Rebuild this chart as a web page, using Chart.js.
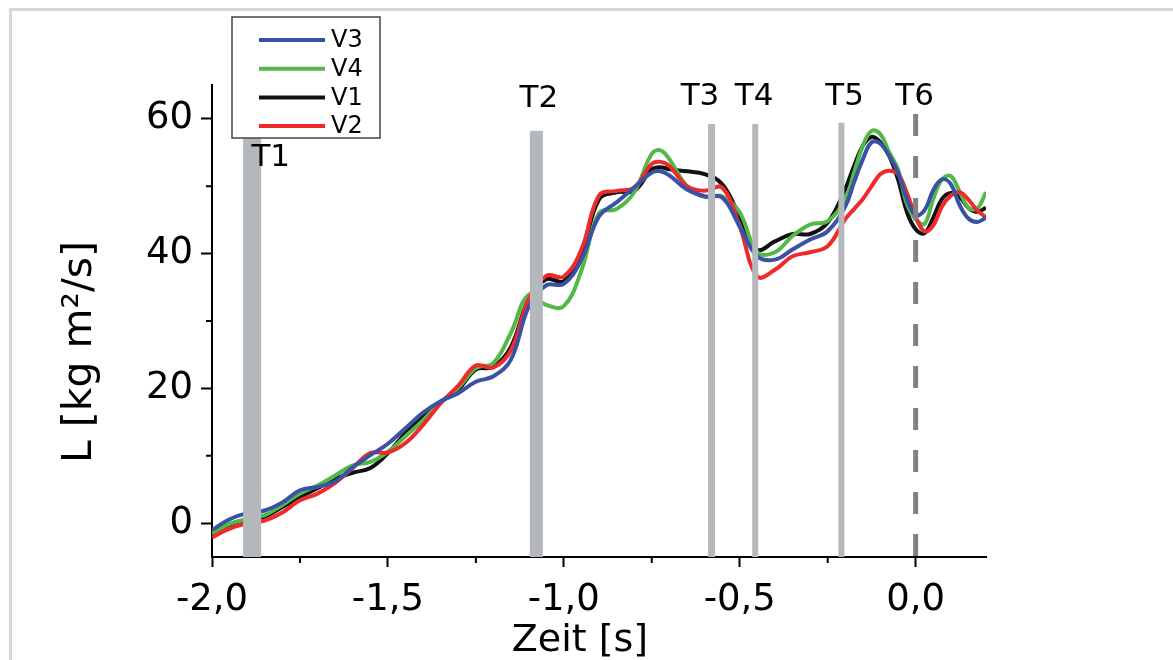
<!DOCTYPE html>
<html>
<head>
<meta charset="utf-8">
<script src="https://cdn.jsdelivr.net/npm/chart.js@4.4.1/dist/chart.umd.min.js"></script>
<style>
    html, body { margin: 0; padding: 0; background: #fff; }
    body { width: 1173px; height: 660px; overflow: hidden; position: relative; }
    #frame {
        position: absolute; left: 9px; top: 8px; width: 1200px; height: 700px;
        border-top: 3px solid #d6d6d6; border-left: 3px solid #d6d6d6;
    }
    #myChart { position: absolute; left: 0; top: 0; }
</style>
</head>
<body>
<div id="frame"></div>
<canvas id="myChart" width="1173" height="660"></canvas>
<script>
// time axis, seconds
const times = [-2.0, -1.95, -1.9, -1.85, -1.8, -1.75, -1.7, -1.65, -1.6, -1.55,
    -1.5, -1.45, -1.4, -1.35, -1.3, -1.25, -1.2, -1.15, -1.1, -1.05,
    -1.0, -0.95, -0.9, -0.85, -0.8, -0.75, -0.725, -0.7, -0.65, -0.6,
    -0.55, -0.5, -0.45, -0.4, -0.35, -0.3, -0.25, -0.2, -0.175, -0.15,
    -0.125, -0.1, -0.075, -0.05, -0.025, 0.0, 0.025, 0.05, 0.075, 0.1,
    0.125, 0.15, 0.175, 0.2];

// L [kg m^2/s] per subject
const valuesV1 = [-1.4, -0.2, 0.6, 1.0, 2.4, 3.9, 5.2, 6.6, 7.5, 8.2,
    10.4, 13.4, 15.8, 18.0, 19.8, 22.8, 23.2, 26.2, 33.2, 36.2,
    35.9, 39.9, 48.0, 49.1, 49.3, 52.5, 52.8, 52.5, 52.2, 51.8,
    50.3, 45.5, 40.6, 41.8, 42.9, 42.9, 44.6, 49.6, 53.0, 56.0,
    57.3, 56.5, 54.5, 51.0, 46.2, 43.6, 43.0, 45.3, 48.1, 49.0,
    48.4, 46.8, 46.2, 46.8];
const valuesV2 = [-2.1, -0.8, 0.0, 0.4, 1.6, 3.4, 4.4, 6.0, 8.2, 10.4,
    10.5, 11.9, 14.6, 17.8, 20.4, 23.4, 23.1, 25.7, 33.2, 36.7,
    36.6, 40.6, 48.6, 49.3, 49.8, 53.3, 53.6, 53.0, 50.0, 49.3,
    49.8, 44.0, 36.6, 37.6, 39.6, 40.2, 41.1, 45.1, 46.6, 48.1,
    50.0, 51.8, 52.3, 51.8, 49.0, 45.5, 43.3, 44.2, 47.0, 48.6,
    49.1, 48.0, 46.4, 45.4];
const valuesV3 = [-1.0, 0.6, 1.5, 1.9, 3.1, 4.9, 5.4, 6.2, 8.3, 10.1,
    11.8, 14.1, 16.4, 18.1, 19.3, 21.0, 21.8, 24.3, 32.1, 35.3,
    35.5, 39.1, 45.5, 47.6, 49.8, 52.0, 52.2, 51.6, 49.5, 48.5,
    48.3, 44.0, 39.6, 39.1, 40.6, 42.1, 43.3, 47.0, 50.6, 54.0,
    56.5, 56.3, 54.5, 52.0, 48.1, 45.7, 46.4, 49.4, 51.0, 50.3,
    47.2, 45.2, 44.7, 45.3];
const valuesV4 = [-1.5, -0.1, 0.6, 1.2, 2.7, 4.4, 5.6, 7.1, 8.6, 9.1,
    10.6, 12.9, 15.3, 17.9, 20.1, 23.0, 23.8, 28.3, 33.9, 32.4,
    32.2, 37.5, 46.0, 46.6, 49.1, 54.8, 55.3, 54.0, 50.0, 48.4,
    48.5, 46.1, 40.2, 40.2, 42.6, 44.3, 44.8, 48.1, 52.0, 56.0,
    58.2, 57.7, 55.0, 52.5, 47.4, 45.1, 44.4, 48.1, 51.0, 51.5,
    49.2, 46.8, 46.7, 49.1];

const legendOrder = ['V3', 'V4', 'V1', 'V2'];

// phase markers T1..T6
const markerNames = ['T1', 'T2', 'T3', 'T4', 'T5', 'T6'];
const markerTimes = [-1.886, -1.078, -0.580, -0.456, -0.211, 0.0];
const markerTops = [57.2, 58.2, 59.2, 59.2, 59.4, 60.7];
const labelTimes = [-1.833, -1.071, -0.613, -0.459, -0.202, -0.003];
const labelLevels = [54.2, 63.0, 63.3, 63.3, 63.3, 63.3];

const xTicks = [-2.0, -1.5, -1.0, -0.5, 0.0];
const xMinor = [-1.75, -1.25, -0.75, -0.25];
const yTicks = [0, 20, 40, 60];
const yMinor = [10, 30, 50];

const FONT = '"DejaVu Sans", sans-serif';
const barWidths = [18, 13, 7, 6, 6, 5];
const colors = { V1: '#111111', V2: '#ee2a2a', V3: '#3a52a5', V4: '#52b848' };

const toPoints = (vals) => times.map((t, i) => ({ x: t, y: vals[i] }));

const makeSet = (name, vals) => ({
    label: name,
    data: toPoints(vals),
    borderColor: colors[name],
    borderWidth: 4,
    pointRadius: 0,
    fill: false,
    tension: 0.4
});

const minorTicks = {
    id: 'minorTicks',
    afterDraw(chart) {
        const { ctx, scales: { x, y } } = chart;
        ctx.save();
        ctx.strokeStyle = '#000';
        ctx.lineWidth = 2;
        ctx.beginPath();
        xMinor.forEach(v => {
            const px = x.getPixelForValue(v);
            ctx.moveTo(px, x.top);
            ctx.lineTo(px, x.top + 6);
        });
        yMinor.forEach(v => {
            const py = y.getPixelForValue(v);
            ctx.moveTo(y.right, py);
            ctx.lineTo(y.right - 6, py);
        });
        ctx.stroke();
        ctx.restore();
    }
};

const markers = {
    id: 'markers',
    afterDatasetsDraw(chart) {
        const { ctx, chartArea, scales: { x, y } } = chart;
        ctx.save();
        markerNames.forEach((name, i) => {
            const px = x.getPixelForValue(markerTimes[i]);
            const top = y.getPixelForValue(markerTops[i]);
            if (name === 'T6') {
                ctx.strokeStyle = '#7f8186';
                ctx.lineWidth = barWidths[i];
                ctx.setLineDash([22, 20]);
                ctx.beginPath();
                ctx.moveTo(px, top);
                ctx.lineTo(px, chartArea.bottom);
                ctx.stroke();
                ctx.setLineDash([]);
            } else {
                ctx.fillStyle = '#b5b8bb';
                ctx.fillRect(px - barWidths[i] / 2, top, barWidths[i], chartArea.bottom - top);
            }
            ctx.fillStyle = '#000';
            ctx.font = '31px ' + FONT;
            ctx.textAlign = 'center';
            ctx.textBaseline = 'middle';
            ctx.fillText(name, x.getPixelForValue(labelTimes[i]), y.getPixelForValue(labelLevels[i]));
        });
        ctx.restore();
    }
};

const legendBox = {
    id: 'legendBox',
    afterDraw(chart) {
        const { ctx } = chart;
        ctx.save();
        ctx.fillStyle = '#fff';
        ctx.fillRect(232, 17, 148, 121);
        ctx.strokeStyle = '#444';
        ctx.lineWidth = 1.5;
        ctx.strokeRect(232, 17, 148, 121);
        ctx.font = '24px ' + FONT;
        ctx.textAlign = 'left';
        ctx.textBaseline = 'middle';
        legendOrder.forEach((name, i) => {
            const ly = 40 + i * 28.7;
            ctx.strokeStyle = colors[name];
            ctx.lineWidth = 4;
            ctx.beginPath();
            ctx.moveTo(259, ly);
            ctx.lineTo(325, ly);
            ctx.stroke();
            ctx.fillStyle = '#000';
            ctx.fillText(name, 331, ly + 1);
        });
        ctx.restore();
    }
};

const axisTitles = {
    id: 'axisTitles',
    afterDraw(chart) {
        const { ctx } = chart;
        ctx.save();
        ctx.fillStyle = '#000';
        ctx.font = '38px ' + FONT;
        ctx.textAlign = 'center';
        ctx.textBaseline = 'alphabetic';
        ctx.fillText('Zeit [s]', 580, 651);
        ctx.font = '41px ' + FONT;
        ctx.translate(91, 352);
        ctx.rotate(-Math.PI / 2);
        ctx.fillText('L [kg m\u00B2/s]', 0, 0);
        ctx.restore();
    }
};

const chartCanvas = document.getElementById('myChart');

new Chart(chartCanvas, {
    type: 'line',
    data: {
        datasets: [
            makeSet('V3', valuesV3),
            makeSet('V2', valuesV2),
            makeSet('V4', valuesV4),
            makeSet('V1', valuesV1)
        ]
    },
    options: {
        responsive: false,
        animation: false,
        layout: { padding: { top: 85, right: 187, left: 0, bottom: 0 } },
        plugins: {
            legend: { display: false },
            tooltip: { enabled: false }
        },
        scales: {
            x: {
                type: 'linear',
                min: -2.0,
                max: 0.2,
                afterFit: (scale) => { scale.height = 103; },
                afterBuildTicks: (scale) => { scale.ticks = xTicks.map(v => ({ value: v })); },
                grid: { drawOnChartArea: false, tickLength: 10, tickColor: '#000', tickWidth: 2 },
                border: { color: '#000', width: 2 },
                ticks: {
                    color: '#000',
                    padding: 11,
                    maxRotation: 0,
                    autoSkip: false,
                    font: { family: FONT, size: 37 },
                    callback: (v) => v.toFixed(1).replace('.', ',')
                }
            },
            y: {
                min: -5,
                max: 65,
                afterFit: (scale) => { scale.width = 212; },
                afterBuildTicks: (scale) => { scale.ticks = yTicks.map(v => ({ value: v })); },
                grid: { drawOnChartArea: false, tickLength: 11, tickColor: '#000', tickWidth: 2 },
                border: { color: '#000', width: 2 },
                ticks: {
                    color: '#000',
                    padding: 8,
                    autoSkip: false,
                    font: { family: FONT, size: 37 },
                    callback: (v) => String(v)
                }
            }
        }
    },
    plugins: [minorTicks, markers, legendBox, axisTitles]
});
</script>
</body>
</html>
